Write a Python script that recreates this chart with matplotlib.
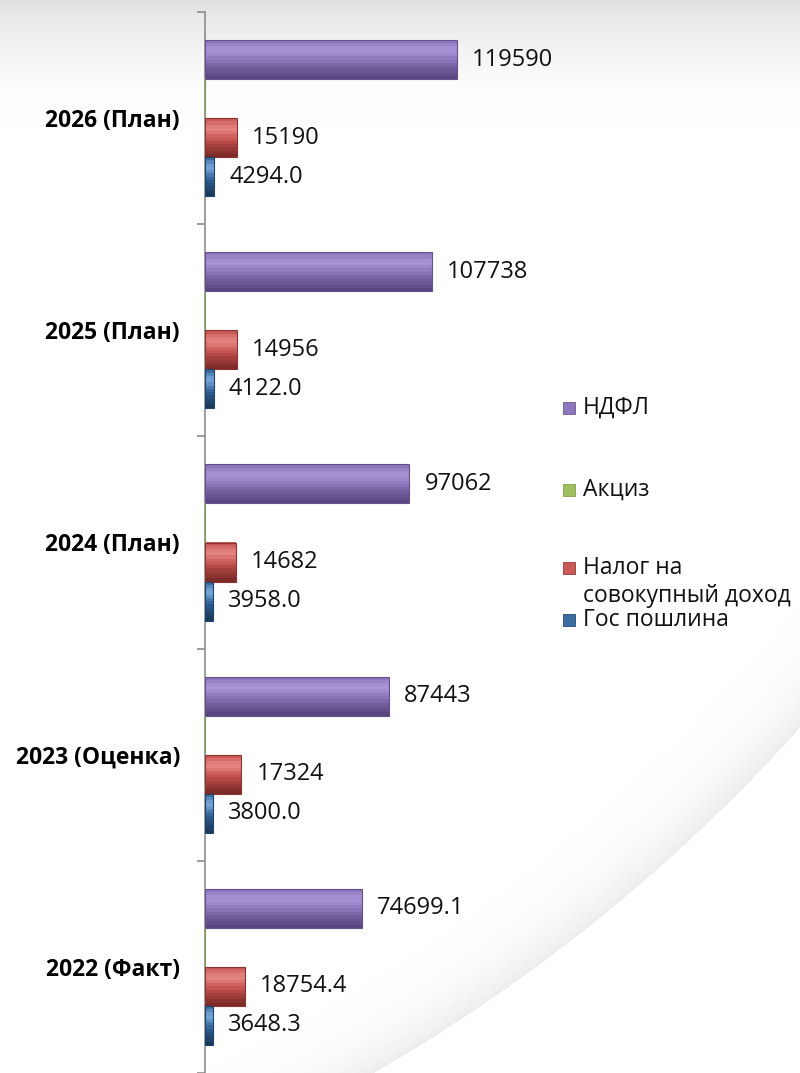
import numpy as np
import matplotlib
matplotlib.use("Agg")
import matplotlib.pyplot as plt
from matplotlib.patches import Rectangle
from matplotlib.colors import to_rgb

plt.rcParams['font.family'] = ['Open Sans', 'DejaVu Sans']

# categories bottom -> top
years = ["2022 (Факт)", "2023 (Оценка)", "2024 (План)", "2025 (План)", "2026 (План)"]
ndfl = [74699.1, 87443, 97062, 107738, 119590]
akciz = [0, 0, 0, 0, 0]
nalog_sd = [18754.4, 17324, 14682, 14956, 15190]
gos_poshl = [3648.3, 3800.0, 3958.0, 4122.0, 4294.0]
ndfl_lbl = ["74699.1", "87443", "97062", "107738", "119590"]
nalog_lbl = ["18754.4", "17324", "14682", "14956", "15190"]
gos_lbl = ["3648.3", "3800.0", "3958.0", "4122.0", "4294.0"]

# name, values, labels, base, highlight, shadow
series = [
    ("НДФЛ", ndfl, ndfl_lbl, "#8670b4", "#a994d8", "#4e3c70"),
    ("Акциз", akciz, None, "#9bbb59", "#b5d17a", "#6f8a3a"),
    ("Налог на\nсовокупный доход", nalog_sd, nalog_lbl, "#c2504d", "#e68582", "#6a2220"),
    ("Гос пошлина", gos_poshl, gos_lbl, "#2f5f94", "#79a7dc", "#16304f"),
]

W, H = 800, 1073
fig = plt.figure(figsize=(W / 100, H / 100), dpi=100)

# background: grey band at the top and a soft swoosh at the bottom right
bg = fig.add_axes([0, 0, 1, 1], zorder=-5)
yy, xx = np.mgrid[0:H, 0:W]
top = np.clip(yy / 90.0, 0, 1) ** 0.7
img = np.where(yy < 125, 0.875 + 0.115 * top, 1.0)
d = np.hypot(xx + 499, yy + 440) - 1746
shade = np.where(d < 0, 1.0 - 0.075 * np.exp(d / 28.0), 1.0)
img = np.minimum(img, shade)
bg.imshow(img, cmap="gray", vmin=0, vmax=1, aspect="auto", interpolation="bilinear")
bg.axis("off")

ax = fig.add_axes([205 / W, 0, 337 / W, 1 - 12 / H])
ax.patch.set_alpha(0)

y = np.arange(len(years)) + 0.5
h = 0.184
offsets = [0.276, 0.092, -0.092, -0.276]

# vertical bevel profile (top -> bottom): + towards highlight, - towards shadow
prof = [0.2, 0.55, 0.85, 0.95, 0.7, 0.35, 0.1, -0.15, -0.35, -0.5, -0.65, -0.8]
nsl = len(prof)


def mix(c1, c2, t):
    a, b = np.array(to_rgb(c1)), np.array(to_rgb(c2))
    return tuple(a + (b - a) * t)


for (name, vals, lbls, base, light, dark), off in zip(series, offsets):
    ypos = y + off
    for i, p in enumerate(prof):
        col = mix(base, light, p) if p >= 0 else mix(base, dark, -p)
        yc = ypos + h / 2 - (i + 0.5) * h / nsl
        ax.barh(yc, vals, height=h / nsl * 1.02, color=col, linewidth=0, zorder=2)
    ax.barh(ypos, vals, height=h, fill=False, edgecolor=mix(base, dark, 0.6),
            linewidth=0.8, zorder=3)
    if lbls is None:
        continue
    for v, yp, t in zip(vals, ypos, lbls):
        ax.annotate(t, xy=(v, yp), xytext=(15, 0), textcoords="offset pixels",
                    ha="left", va="center", fontsize=17, color="#111111")

ax.set_xlim(0, 160000)
ax.set_ylim(0, len(years))
ax.set_xticks([])
ax.set_yticks(np.arange(len(years) + 1))
ax.set_yticklabels([])
ax.set_yticks(y, minor=True)
ax.set_yticklabels(years, minor=True)
for t in ax.get_yticklabels(minor=True):
    t.set_fontsize(16.5)
    t.set_fontweight("bold")
ax.tick_params(axis="y", which="major", direction="out", length=6, width=1.2,
               color="#8c8c8c")
ax.tick_params(axis="y", which="minor", length=0, pad=18)
for s in ["top", "right", "bottom"]:
    ax.spines[s].set_visible(False)
ax.spines["left"].set_color("#8c8c8c")
ax.spines["left"].set_linewidth(1.2)

# legend drawn by hand to match the spacing of the original
leg_y = [408, 490, 568, 620]
for (name, vals, lbls, base, light, dark), ly in zip(series, leg_y):
    fy = 1 - ly / H
    fig.patches.append(Rectangle((563 / W, fy - 6 / H), 12 / W, 12 / H,
                                 transform=fig.transFigure,
                                 facecolor=mix(base, light, 0.2),
                                 edgecolor=mix(base, dark, 0.5), linewidth=0.6))
    for k, line in enumerate(name.split("\n")):
        fig.text(583 / W, fy - k * 28 / H, line, ha="left", va="center",
                 fontsize=16.5, color="#111111")

fig.savefig("out.png", dpi=100)
